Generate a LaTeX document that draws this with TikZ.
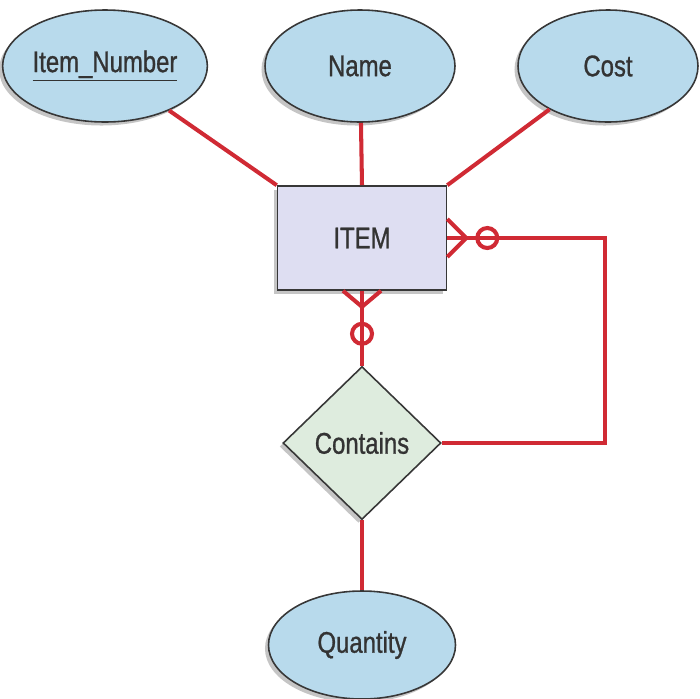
\documentclass[tikz,border=0pt]{standalone}
\usepackage{fontspec}
\setmainfont{Liberation Sans}[FakeStretch=0.8, FakeBold=0.9]
\usepackage{tikz}
\usetikzlibrary{
    shapes.geometric,
    positioning,
    calc,
    shadows
}
\definecolor{relred}{RGB}{208, 42, 52}
\definecolor{attrblue}{RGB}{184, 218, 236}
\definecolor{entlav}{RGB}{222, 222, 242}
\definecolor{relgreen}{RGB}{222, 236, 222}
\definecolor{edgegray}{RGB}{55, 55, 55}
\tikzstyle{attribute} = [
    ellipse,
    draw=edgegray,
    line width=0.9pt,
    fill=attrblue,
    minimum width=3.8cm,
    minimum height=2.24cm,
    inner sep=0pt,
    font=\fontsize{17}{20}\selectfont,
    text=black!80,
    drop shadow={shadow xshift=-2pt, shadow yshift=-2pt, fill=black!45}
]
\tikzstyle{entity} = [
    rectangle,
    draw=edgegray,
    line width=0.9pt,
    fill=entlav,
    minimum width=3.38cm,
    minimum height=2.08cm,
    font=\fontsize{17}{20}\selectfont,
    text=black!80,
    drop shadow={shadow xshift=-2pt, shadow yshift=-2pt, fill=black!45}
]
\tikzstyle{relationship} = [
    diamond,
    draw=edgegray,
    line width=0.9pt,
    fill=relgreen,
    minimum width=3.16cm,
    minimum height=3.06cm,
    inner sep=0pt,
    font=\fontsize{17}{20}\selectfont,
    text=black!80,
    drop shadow={shadow xshift=-2pt, shadow yshift=-2pt, fill=black!45}
]
\tikzstyle{link} = [
    line width=2.3pt,
    draw=relred
]
\begin{document}
\begin{tikzpicture}
        \useasboundingbox (0,0) rectangle (14,-13.96);

        % Entity
        \node[entity] (item) at (7.24,-4.76) {ITEM};

        % Attributes
        \node[attribute, minimum width=3.9cm] (number) at (2.1,-1.32) {\underline{Item\_Number}};
        \node[attribute] (name) at (7.2,-1.32) {Name};
        \node[attribute, minimum width=3.6cm] (cost) at (12.16,-1.32) {Cost};

        % Relationship
        \node[relationship] (contains) at (7.24,-8.86) {Contains};
        \node[attribute, minimum width=3.74cm, minimum height=2.16cm] (quantity) at (7.24,-12.9) {Quantity};
        \coordinate (corner) at (12.1,-4.76);

        % Lines
        \draw[link] (number) -- (item.north west);
        \draw[link] (name) -- (item.north);
        \draw[link] (cost) -- (item.north east);
        \draw[link] (contains) -- (quantity);
        \draw[link] (item.south) -- (contains.north);
        \draw[link] (item.east) -- (corner) |- (contains.east);

        % Crow's feet
        \draw[link] ($(item.east)+(0,0.38)$) -- ($(item.east)+(0.38,0)$) -- ($(item.east)+(0,-0.38)$);
        \draw[link] ($(item.east)+(0.8,0)$) circle (0.2);
        \draw[link] ($(item.south)+(-0.38,0)$) -- ($(item.south)+(0,-0.32)$) -- ($(item.south)+(0.38,0)$);
        \draw[link] ($(item.south)+(0,-0.86)$) circle (0.2);
    \end{tikzpicture}
\end{document}
